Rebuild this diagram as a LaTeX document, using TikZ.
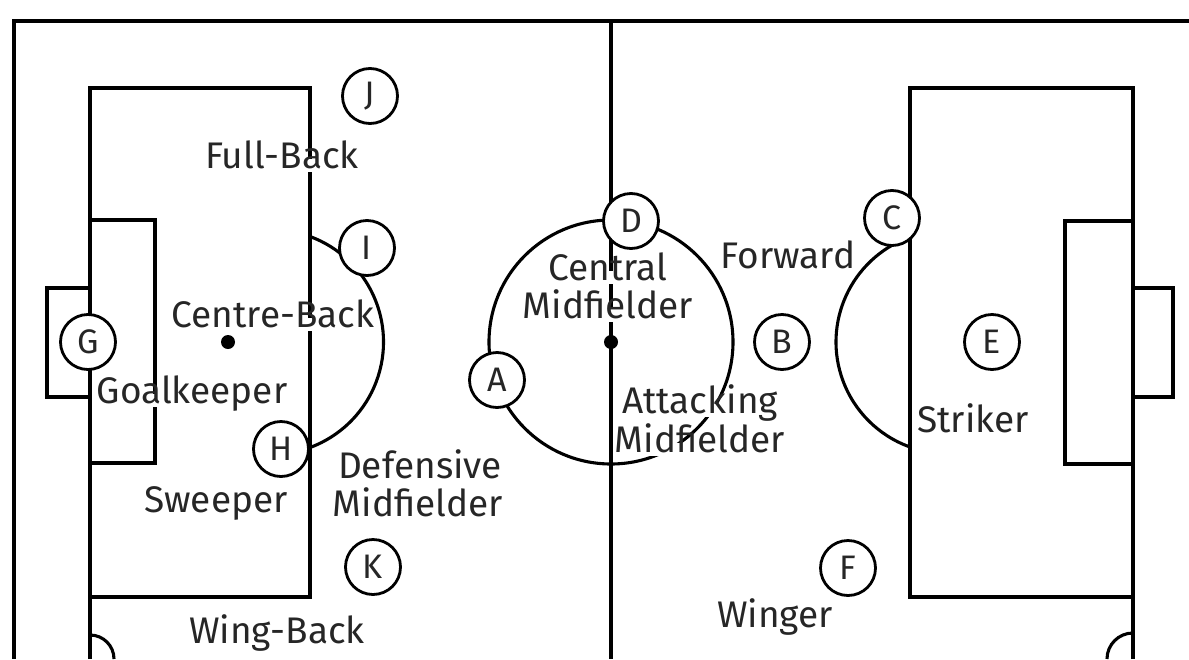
\documentclass[tikz,border=0pt]{standalone}
\usepackage{fontspec}
\setmainfont{Fira Sans}
\begin{document}
\begin{tikzpicture}[x=1pt,y=-1pt,
  pline/.style={line width=3.1pt, draw=black, line join=miter},
  player/.style={circle, draw=black, fill=white, minimum size=55pt, inner sep=0pt, line width=2.8pt, font=\fontsize{34}{36}\selectfont, text=black!85},
  lbl/.style={fill=white, inner sep=2pt, text height=0.72em, text depth=0.22em, font=\fontsize{37}{40}\selectfont, text=black!85, anchor=base}]
\useasboundingbox (0,0) rectangle (1189,659);
% outer lines
\draw[pline] (1189,21) -- (14,21) -- (14,659);
\draw[pline] (611,21) -- (611,659);
% left side
\draw[pline] (90,659) -- (90,88) -- (310,88) -- (310,597) -- (90,597);
\draw[pline] (90,220) -- (155,220) -- (155,463) -- (90,463);
\draw[pline] (90,288) -- (47,288) -- (47,397) -- (90,397);
\draw[pline] (90,635) arc[start angle=90, end angle=0, radius=24pt];
\draw[pline] (271,342) ++(69.6:112.5pt) arc[start angle=69.6, end angle=-69.6, radius=112.5pt];
\fill (228,342) circle[radius=7pt];
% right side
\draw[pline] (1133,659) -- (1133,88) -- (910,88) -- (910,597) -- (1133,597);
\draw[pline] (1133,221) -- (1065,221) -- (1065,464) -- (1133,464);
\draw[pline] (1133,288) -- (1173,288) -- (1173,397) -- (1133,397);
\draw[pline] (1133,633) arc[start angle=90, end angle=180, radius=26pt];
\draw[pline] (947.5,342) ++(110.4:111.5pt) arc[start angle=110.4, end angle=249.6, radius=111.5pt];
% centre
\draw[pline] (611,342) circle[radius=122pt];
\fill (611,342) circle[radius=7pt];
% labels
\node[lbl] (fullback) at (282,168) {Full-Back};
\node[lbl] (centreback) at (273,327) {Centre-Back};
\node[lbl] (goalkeeper) at (192,403) {Goalkeeper};
\node[lbl] (sweeper) at (216,512) {Sweeper};
\node[lbl] (def1) at (420,478) {Defensive};
\node[lbl] (def2) at (418,516) {Midfielder};
\node[lbl] (cen1) at (608,280) {Central};
\node[lbl] (cen2) at (608,318) {Midfielder};
\node[lbl] (forward) at (788,268) {Forward};
\node[lbl] (att1) at (700,413) {Attacking};
\node[lbl] (att2) at (700,452) {Midfielder};
\node[lbl] (striker) at (973,432) {Striker};
\node[lbl] (wingback) at (277,643) {Wing-Back};
\node[lbl] (winger) at (775,627) {Winger};
% players
\node[player] (J) at (370,96) {J};
\node[player] (I) at (367,248) {I};
\node[player] (H) at (281,449) {H};
\node[player] (G) at (88,342) {G};
\node[player] (K) at (373,567) {K};
\node[player] (D) at (631,221) {D};
\node[player] (A) at (497,380) {A};
\node[player] (B) at (782,342) {B};
\node[player] (C) at (892,218) {C};
\node[player] (E) at (992,342) {E};
\node[player] (F) at (848,568) {F};
\end{tikzpicture}
\end{document}
